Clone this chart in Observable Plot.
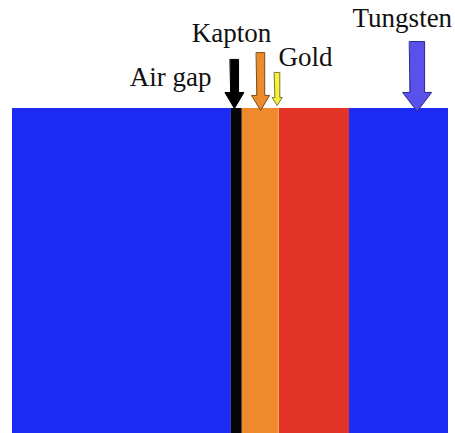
<!DOCTYPE html>
<html>
<head>
<meta charset="utf-8">
<script src="https://cdn.jsdelivr.net/npm/d3@7"></script>
<script src="https://cdn.jsdelivr.net/npm/@observablehq/plot@0.6"></script>
<style>
  html, body { margin: 0; padding: 0; background: #fff; }
  #chart svg { display: block; }
</style>
</head>
<body>
<div id="chart"></div>
<script>
// ---- Data (x: position across the stack, 0–100; y: height, sample spans 0–100) ----
const layerNames = ["Tungsten", "Air gap", "Kapton", "Gold", "Red layer", "Tungsten"];
const layerStart = [0, 50.2, 52.7, 61.0, 61.2, 77.3];
const layerEnd   = [50.2, 52.7, 61.0, 61.2, 77.3, 100];
const sampleBottom = 0;
const sampleTop = 100;

const arrowLabels = ["Air gap", "Kapton", "Gold", "Tungsten"];
const arrowX      = [50.9, 56.9, 60.7, 92.8];
const arrowTip    = [100.0, 99.4, 100.9, 99.1];
const arrowTail   = [115.1, 117.2, 111.1, 120.6];
const labelX      = [26.9, 41.1, 61.0, 78.0];
const labelY      = [109.6, 123.2, 115.8, 127.8];

// ---- Styles ----
const layerColors = ["#1c2bf4", "#050505", "#ee8a2c", "#f3b455", "#e33226", "#1c2bf4"];
const arrowFill   = ["#000000", "#ec8a2e", "#f2f23e", "#5a50ea"];
const arrowStroke = ["#000000", "#7a4a1a", "#7a7a20", "#2a2a8a"];
const shaftPx     = [8.3, 8.3, 5.3, 15];
const headWPx     = [19, 18, 10, 29];
const headLPx     = [16, 15, 8, 19];

const W = 455, H = 433, ML = 12, MR = 7;
const xDomain = [0, 100];
const pxPerY = 3.25;
const yDomain = [0, H / pxPerY];
const pxPerX = (W - ML - MR) / (xDomain[1] - xDomain[0]);

const layers = layerNames.map((name, i) => ({
  name, x1: layerStart[i], x2: layerEnd[i], y1: sampleBottom, y2: sampleTop, color: layerColors[i]
}));

function arrowPolygon(i) {
  const cx = arrowX[i], tip = arrowTip[i], tail = arrowTail[i];
  const sw = shaftPx[i] / 2 / pxPerX, hw = headWPx[i] / 2 / pxPerX, hl = headLPx[i] / pxPerY;
  const hy = tip + hl;
  return [
    {x: cx - sw, y: tail}, {x: cx + sw, y: tail}, {x: cx + sw, y: hy}, {x: cx + hw, y: hy},
    {x: cx, y: tip}, {x: cx - hw, y: hy}, {x: cx - sw, y: hy}
  ];
}

const labels = arrowLabels.map((t, i) => ({t, x: labelX[i], y: labelY[i]}));

const chart = Plot.plot({
  width: W, height: H,
  marginLeft: ML, marginRight: MR, marginTop: 0, marginBottom: 0,
  x: {domain: xDomain, axis: null},
  y: {domain: yDomain, axis: null},
  color: {type: "identity"},
  style: {background: "#fff"},
  marks: [
    Plot.rect(layers, {x1: "x1", x2: "x2", y1: "y1", y2: "y2", fill: "color"}),
    ...arrowLabels.map((_, i) => Plot.line(arrowPolygon(i), {
      x: "x", y: "y", curve: "linear-closed",
      fill: arrowFill[i], stroke: arrowStroke[i], strokeWidth: 1, strokeLinejoin: "miter"
    })),
    Plot.text(labels, {
      x: "x", y: "y", text: "t", textAnchor: "start",
      fontFamily: "'Liberation Serif', 'Times New Roman', serif", fontSize: 27, fill: "#111"
    })
  ]
});
document.getElementById("chart").append(chart);
</script>
</body>
</html>
